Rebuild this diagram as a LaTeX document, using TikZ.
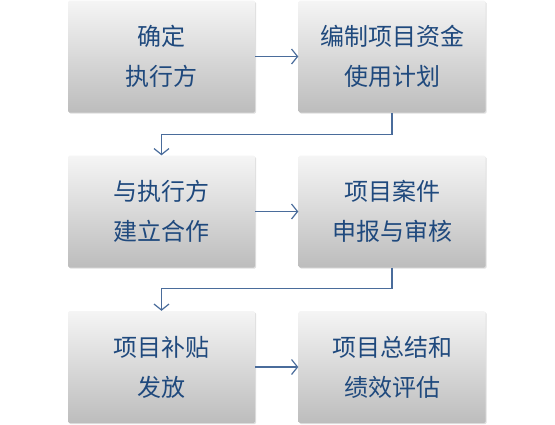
\documentclass[tikz,border=0pt]{standalone}
\usepackage{fontspec}
\newfontfamily\cjk{Noto Sans CJK SC}
\usetikzlibrary{arrows.meta,shadows}
\definecolor{txtc}{HTML}{1F497D}
\definecolor{arrc}{HTML}{4A6C9B}
\tikzset{
  stepbox/.style={rectangle, rounded corners=1.5pt, minimum width=187pt, minimum height=112pt,
    top color=white!96!black, bottom color=white!74!black, draw=none,
    drop shadow={opacity=0.25, shadow xshift=1.2pt, shadow yshift=-1.2pt},
    align=center, text=txtc, font=\cjk\fontsize{24}{40}\selectfont, inner sep=0pt},
  conn/.style={draw=arrc, line width=1.2pt, -{Straight Barb[length=6pt,width=15pt,line width=1.2pt]}}
}
\begin{document}
\begin{tikzpicture}[x=1pt,y=-1pt]
\useasboundingbox (0,0) rectangle (555,424);
\node[stepbox] (a1) at (161.5,56.5) {确定\\执行方};
\node[stepbox] (b1) at (392,56.5) {编制项目资金\\使用计划};
\node[stepbox] (a2) at (161.5,211.5) {与执行方\\建立合作};
\node[stepbox] (b2) at (392,211.5) {项目案件\\申报与审核};
\node[stepbox] (a3) at (161.5,367) {项目补贴\\发放};
\node[stepbox] (b3) at (392,367) {项目总结和\\绩效评估};
\draw[conn] (a1.east) -- (b1.west);
\draw[conn] (a2.east) -- (b2.west);
\draw[conn] (a3.east) -- (b3.west);
\draw[conn] (b1.south) -- ++(0,-22pt) -| (a2.north);
\draw[conn] (b2.south) -- ++(0,-21pt) -| (a3.north);
\end{tikzpicture}
\end{document}
